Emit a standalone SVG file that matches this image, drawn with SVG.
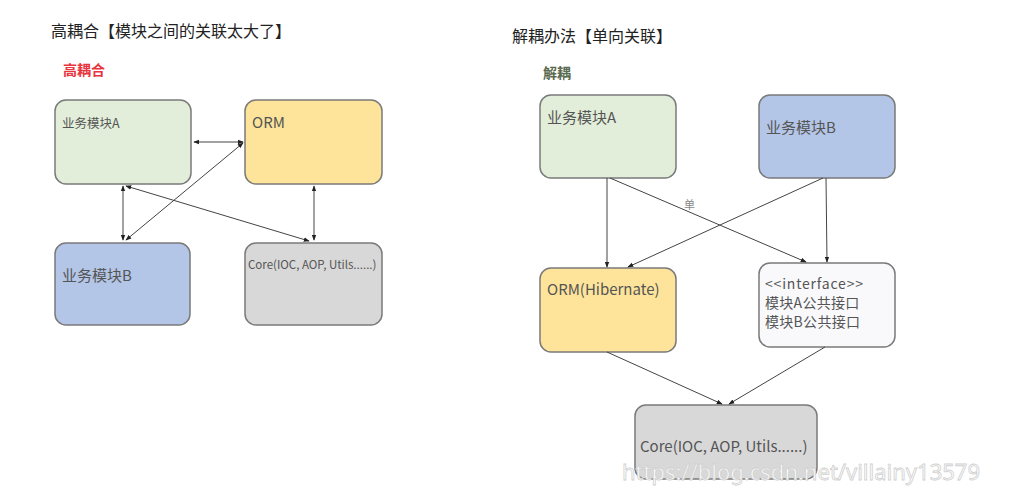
<svg xmlns="http://www.w3.org/2000/svg" width="1011" height="489" viewBox="0 0 1011 489">
<style>
text{font-family:"Noto Sans CJK SC","Noto Sans",sans-serif;fill:#555}
.title{font-size:16px;fill:#222}
.box{stroke:#7a7a7a;stroke-width:1.5}
.lbl{font-size:15px}
.il{font-size:14px}
.c{stroke:#444;stroke-width:1;fill:none}
</style>
<defs>
<marker id="ah" viewBox="0 0 8 8" refX="7" refY="4" markerWidth="6" markerHeight="6" orient="auto-start-reverse">
<path d="M0,1 L8,4 L0,7 z" fill="#222"/>
</marker>
</defs>
<rect width="1011" height="489" fill="#fff"/>
<text class="title" x="51" y="37">高耦合【模块之间的关联太大了】</text>
<text x="63" y="75" style="font-size:14px;fill:#e8343c;font-weight:bold">高耦合</text>
<text class="title" x="512" y="42">解耦办法【单向关联】</text>
<text x="543" y="78" style="font-size:14px;fill:#5a6b4f;font-weight:bold">解耦</text>

<g id="L_A"><rect class="box" x="55" y="100" width="136" height="84" rx="11" fill="#e2eed9"/><text x="62" y="128" style="font-size:12.5px">业务模块A</text></g>
<g id="L_ORM"><rect class="box" x="245" y="100" width="137" height="84" rx="11" fill="#fde49a"/><text class="lbl" x="252" y="128">ORM</text></g>
<g id="L_B"><rect class="box" x="55" y="243" width="135" height="82" rx="11" fill="#b3c6e7"/><text class="lbl" x="62" y="281">业务模块B</text></g>
<g id="L_Core"><rect class="box" x="245" y="243" width="137" height="82" rx="11" fill="#d8d8d8"/><text x="248" y="269" style="font-size:11.5px">Core(IOC, AOP, Utils......)</text></g>

<g id="R_A"><rect class="box" x="540" y="95" width="136" height="83" rx="11" fill="#e2eed9"/><text class="lbl" x="547" y="123">业务模块A</text></g>
<g id="R_B"><rect class="box" x="759" y="95" width="136" height="83" rx="11" fill="#b3c6e7"/><text class="lbl" x="766" y="133">业务模块B</text></g>
<g id="R_ORM"><rect class="box" x="540" y="268" width="136" height="84" rx="11" fill="#fde49a"/><text class="lbl" x="547" y="295">ORM(Hibernate)</text></g>
<g id="R_IF"><rect class="box" x="759" y="263" width="136" height="84" rx="11" fill="#f9f9fb"/><text class="il" x="765" y="289" letter-spacing="0.8">&lt;&lt;interface&gt;&gt;</text><text class="il" x="765" y="308" letter-spacing="0.3">模块A公共接口</text><text class="il" x="765" y="327" letter-spacing="0.3">模块B公共接口</text></g>
<g id="R_Core"><rect class="box" x="635" y="405" width="182" height="74" rx="11" fill="#d8d8d8"/><text class="lbl" x="640" y="452">Core(IOC, AOP, Utils......)</text></g>

<g id="connectors">
<line class="c" x1="194" y1="142" x2="243" y2="142" marker-start="url(#ah)" marker-end="url(#ah)"/>
<line class="c" x1="123" y1="186" x2="123" y2="240" marker-start="url(#ah)" marker-end="url(#ah)"/>
<line class="c" x1="126" y1="240" x2="243" y2="143" marker-start="url(#ah)" marker-end="url(#ah)"/>
<line class="c" x1="126" y1="186" x2="309" y2="241" marker-start="url(#ah)" marker-end="url(#ah)"/>
<line class="c" x1="314" y1="186" x2="314" y2="240" marker-start="url(#ah)" marker-end="url(#ah)"/>

<line class="c" x1="607" y1="178" x2="607" y2="267" marker-end="url(#ah)"/>
<line class="c" x1="610" y1="178" x2="806" y2="262" marker-end="url(#ah)"/>
<line class="c" x1="823" y1="178" x2="628" y2="267" marker-end="url(#ah)"/>
<line class="c" x1="826" y1="178" x2="827" y2="262" marker-end="url(#ah)"/>
<line class="c" x1="607" y1="352" x2="722" y2="404" marker-end="url(#ah)"/>
<line class="c" x1="825" y1="347" x2="729" y2="404" marker-end="url(#ah)"/>
<text x="684" y="209" style="font-size:11px;fill:#888">单</text>
</g>
<text x="622" y="480" style="font-size:22px;fill:#fff;stroke:#d0d0d0;stroke-width:0.8;font-family:'Noto Sans',sans-serif">https://blog.csdn.net/villainy13579</text>
</svg>
